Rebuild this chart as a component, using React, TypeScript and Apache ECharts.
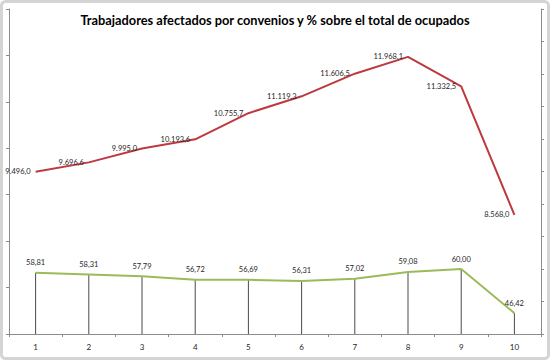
import React, { useEffect, useRef } from "react";
import * as echarts from "echarts";

const categories = ["1", "2", "3", "4", "5", "6", "7", "8", "9", "10"];
const trabajadores = [9496.0, 9696.6, 9995.0, 10193.6, 10755.7, 11119.3, 11606.5, 11968.1, 11332.5, 8568.0];
const porcentaje = [58.81, 58.31, 57.79, 56.72, 56.69, 56.31, 57.02, 59.08, 60.0, 46.42];
const title = "Trabajadores afectados por convenios y % sobre el total de ocupados";

function fmtEs(v: number, decimals: number): string {
  const s = v.toFixed(decimals);
  const [int, dec] = s.split(".");
  const withSep = int.replace(/\B(?=(\d{3})+(?!\d))/g, ".");
  return dec !== undefined ? withSep + "," + dec : withSep;
}

export default function App() {
  const ref = useRef<HTMLDivElement>(null);
  useEffect(() => {
    if (!ref.current) return;
    const chart = echarts.init(ref.current, null, { renderer: "svg" });
    const axisLine = { show: true, lineStyle: { color: "#8c8c8c", width: 1 } };
    chart.setOption({
      animation: false,
      backgroundColor: "#ffffff",
      title: {
        text: title,
        left: "center",
        top: 8,
        textStyle: { fontFamily: "Lato", fontWeight: "bold", fontSize: 12.8, color: "#000" },
      },
      graphic: [
        {
          type: "rect",
          shape: { x: 1.5, y: 1.5, width: 547, height: 357, r: 4 },
          style: { fill: "none", stroke: "#d4d4d4", lineWidth: 3 },
          silent: true,
        },
      ],
      grid: { left: 9, right: 9, top: 9, bottom: 26, containLabel: false },
      xAxis: {
        type: "category",
        data: categories,
        boundaryGap: true,
        axisLine,
        axisTick: { show: true, length: 3, lineStyle: { color: "#8c8c8c" } },
        axisLabel: { fontFamily: "Lato", fontSize: 8, color: "#262626", margin: 9 },
        splitLine: { show: false },
      },
      yAxis: [
        {
          type: "value",
          min: 6000,
          max: 13000,
          interval: 1000,
          position: "left",
          axisLine,
          axisTick: { show: true, length: 3, lineStyle: { color: "#8c8c8c" } },
          axisLabel: { show: false },
          splitLine: { show: false },
        },
        {
          type: "value",
          min: 40,
          max: 140,
          interval: 10,
          position: "right",
          axisLine,
          axisTick: { show: true, length: 3, lineStyle: { color: "#8c8c8c" } },
          axisLabel: { show: false },
          splitLine: { show: false },
        },
      ],
      series: [
        {
          type: "bar",
          yAxisIndex: 1,
          data: porcentaje,
          barWidth: 1,
          itemStyle: { color: "#4a4a4a" },
          silent: true,
          z: 1,
        },
        {
          type: "line",
          yAxisIndex: 0,
          data: trabajadores,
          symbol: "circle",
          symbolSize: 0,
          showSymbol: true,
          itemStyle: { color: "#bc3a3f" },
          lineStyle: { color: "#bc3a3f", width: 2 },
          label: {
            show: true,
            position: "left",
            distance: 5,
            fontFamily: "Lato",
            fontSize: 7.5,
            color: "#262626",
            formatter: (p: any) => fmtEs(p.value, 1),
          },
          z: 3,
        },
        {
          type: "line",
          yAxisIndex: 1,
          data: porcentaje,
          symbol: "circle",
          symbolSize: 0,
          showSymbol: true,
          itemStyle: { color: "#9bbb59" },
          lineStyle: { color: "#9bbb59", width: 2 },
          label: {
            show: true,
            position: "top",
            distance: 6,
            fontFamily: "Lato",
            fontSize: 7.5,
            color: "#262626",
            formatter: (p: any) => fmtEs(p.value, 2),
          },
          z: 3,
        },
      ],
    });
    return () => chart.dispose();
  }, []);
  return (
    <div
      ref={ref}
      style={{ position: "fixed", left: 0, top: 0, width: 550, height: 360 }}
    />
  );
}
